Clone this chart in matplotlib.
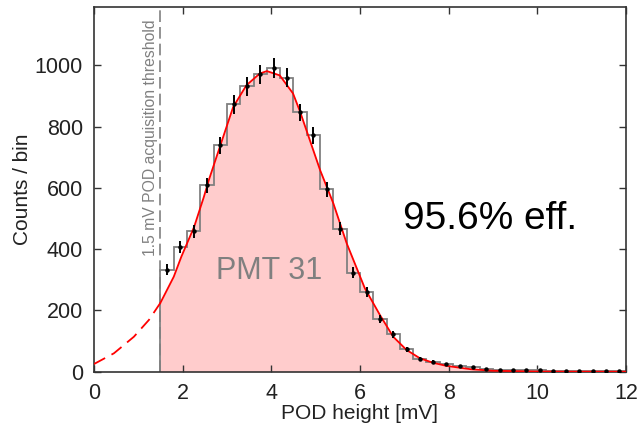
import numpy as np
import matplotlib
matplotlib.use("Agg")
import matplotlib.pyplot as plt

# =========================
# Data
# =========================
# histogram: 0.3 mV bins starting at the 1.5 mV threshold
bin_edges = [1.5 + 0.3 * i for i in range(36)]
counts = [333, 406, 458, 609, 739, 872, 931, 970, 991, 959,
          846, 772, 595, 467, 323, 259, 171, 122, 73, 42,
          33, 24, 17, 14, 9, 6, 6, 7, 4, 3,
          3, 3, 3, 2, 2]

# fitted curve, sampled by eye
fit_x = [0.0, 0.45, 0.9, 1.24, 1.5, 1.8, 1.97, 2.26, 2.48, 2.59,
         2.84, 3.14, 3.44, 3.74, 3.9, 4.19, 4.49, 4.65, 5.1, 5.4,
         5.7, 6.11, 6.45, 6.75, 7.05, 7.35, 7.65, 7.95, 8.5, 9.0,
         10.0, 11.0, 12.0]
fit_y = [25, 60, 114, 169, 225, 310, 375, 473, 571, 625,
         734, 864, 935, 973, 981, 967, 908, 848, 658, 549,
         419, 272, 185, 114, 71, 44, 29, 19, 8, 3,
         0.5, 0.1, 0.0]

threshold = 1.5
efficiency_label = "95.6% eff."
pmt_label = "PMT 31"

plt.rcParams['font.family'] = ['Liberation Sans', 'DejaVu Sans']

edges = np.array(bin_edges)
n = np.array(counts, dtype=float)
centers = 0.5 * (edges[:-1] + edges[1:])
n_err = np.sqrt(n)  # Poisson errors

fx = np.array(fit_x)
fy = np.array(fit_y, dtype=float)
above = fx >= threshold
below = fx <= threshold

fig = plt.figure(figsize=(6.41, 4.30), dpi=100)
ax = fig.add_axes([0.1466, 0.1356, 0.83, 0.848])

ax.fill_between(fx[above], fy[above], 0, color="#ffcccc", lw=0, zorder=1)
ax.stairs(n, edges, color="#808080", lw=1.3, zorder=2)
ax.plot(fx[above], fy[above], color="red", lw=1.3, zorder=3)
ax.plot(fx[below], fy[below], color="red", lw=1.3, dashes=(7, 4), zorder=3)
ax.errorbar(centers, n, yerr=n_err, fmt="o", ms=2.2, color="black",
            elinewidth=1.4, capsize=0, zorder=4)

ax.axvline(threshold, color="#808080", lw=1.2, dashes=(7, 3), zorder=2)
ax.text(1.27, 764, "1.5 mV POD acquisition threshold", rotation=90,
        ha="center", va="center", fontsize=11.3, color="#808080")
ax.text(3.95, 330, pmt_label, ha="center", va="center",
        fontsize=22, color="#808080")
ax.text(8.93, 497, efficiency_label, ha="center", va="center",
        fontsize=28, color="black")

ax.set_xlim(0, 12)
ax.set_ylim(0, 1190)
ax.set_xticks(np.arange(0, 13, 2))
ax.set_yticks(np.arange(0, 1001, 200))
ax.tick_params(direction="in", length=5, width=1, top=True, right=True,
               labelsize=15.5, pad=8, colors="#333333", labelcolor="#222222")
for s in ax.spines.values():
    s.set_color("#333333")
    s.set_linewidth(1.2)

ax.set_xlabel("POD height [mV]", fontsize=15, labelpad=0, color="#222222")
ax.set_ylabel("Counts / bin", fontsize=15, labelpad=2, color="#222222")

fig.savefig("out.png", dpi=100)
